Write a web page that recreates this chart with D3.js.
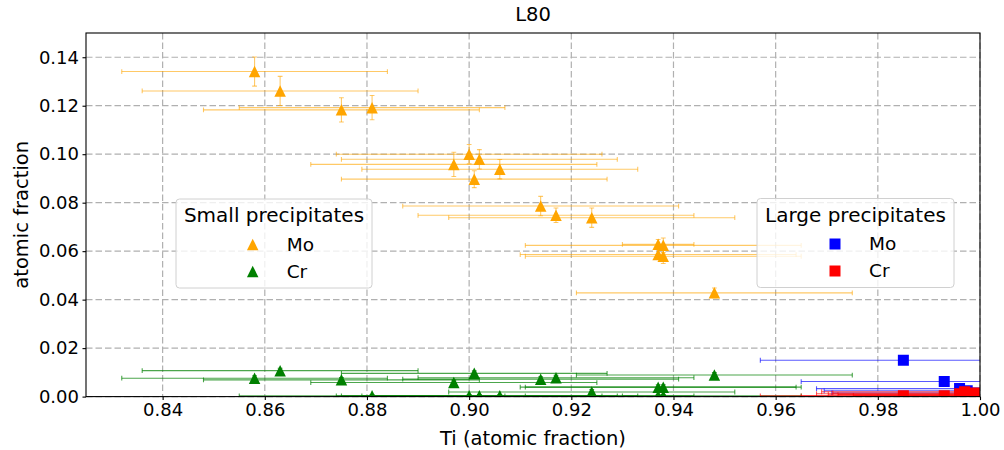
<!DOCTYPE html>
<html>
<head>
<meta charset="utf-8">
<script src="https://cdn.jsdelivr.net/npm/d3@7/dist/d3.min.js"></script>
<style>
  html, body { margin: 0; padding: 0; background: #fff; }
  svg { display: block; font-family: "DejaVu Sans", sans-serif; }
</style>
</head>
<body>
<svg id="chart" width="1004" height="450"></svg>
<script>
// Small precipitates: Ti fraction with its spread, Mo and Cr content
const smallTi    = [0.858, 0.863, 0.875, 0.881, 0.900, 0.902, 0.897, 0.906, 0.901, 0.914, 0.917, 0.924, 0.937, 0.938, 0.937, 0.938, 0.948];
const smallTiErr = [0.026, 0.027, 0.027, 0.026, 0.026, 0.027, 0.028, 0.027, 0.026, 0.027, 0.027, 0.028, 0.007, 0.027, 0.027, 0.027, 0.027];
const smallMo    = [0.1341, 0.1261, 0.1183, 0.1192, 0.1000, 0.0979, 0.0958, 0.0938, 0.0897, 0.0786, 0.0748, 0.0738, 0.0628, 0.0624, 0.0586, 0.0579, 0.0428];
const smallMoErr = [0.006, 0.006, 0.005, 0.005, 0.004, 0.004, 0.005, 0.004, 0.0035, 0.004, 0.003, 0.004, 0.002, 0.003, 0.002, 0.003, 0.002];
const smallCr    = [0.0076, 0.0107, 0.0069, 0.0003, 0.0003, 0.0003, 0.0058, 0.0003, 0.0096, 0.0072, 0.0078, 0.0019, 0.0003, 0.0039, 0.0039, 0.0003, 0.0089];
const smallCrErr = [0.001, 0.001, 0.001, 0.0005, 0.0005, 0.0005, 0.001, 0.0005, 0.001, 0.001, 0.001, 0.001, 0.0005, 0.001, 0.001, 0.0005, 0.001];

// Large precipitates
const largeMoTi    = [0.985, 0.993, 0.996, 0.9975, 0.999];
const largeMoTiErr = [0.028, 0.028, 0.028, 0.028, 0.028];
const largeMo      = [0.0150, 0.0062, 0.0033, 0.0024, 0.0015];
const largeCrTi    = [0.985, 0.993, 0.996, 0.997, 0.998, 0.999, 0.999, 0.9995];
const largeCrTiErr = [0.028, 0.028, 0.028, 0.028, 0.0277, 0.0278, 0.0268, 0.0243];
const largeCr      = [0.0003, 0.0003, 0.0012, 0.0020, 0.0010, 0.0015, 0.0008, 0.0005];

// Axis ticks
const xTicks = [0.84, 0.86, 0.88, 0.90, 0.92, 0.94, 0.96, 0.98, 1.00];
const yTicks = [0.00, 0.02, 0.04, 0.06, 0.08, 0.10, 0.12, 0.14];

const svg = d3.select("#chart");
const plot = { left: 86, right: 980, top: 33, bottom: 396.6 };

const x = d3.scaleLinear().domain([0.825, 1.0]).range([plot.left, plot.right]);
const y = d3.scaleLinear().domain([0, 0.15]).range([plot.bottom, plot.top]);

svg.append("defs").append("clipPath").attr("id", "plotClip")
  .append("rect")
  .attr("x", plot.left).attr("y", plot.top)
  .attr("width", plot.right - plot.left).attr("height", plot.bottom - plot.top);

// Dashed grid
const grid = svg.append("g").attr("stroke", "#b0b0b0").attr("stroke-width", 1.2)
  .attr("stroke-dasharray", "6.5,3");
grid.selectAll("line.gx").data(xTicks).join("line").attr("class", "gx")
  .attr("x1", d => x(d)).attr("x2", d => x(d))
  .attr("y1", plot.top).attr("y2", plot.bottom);
grid.selectAll("line.gy").data(yTicks).join("line").attr("class", "gy")
  .attr("x1", plot.left).attr("x2", plot.right)
  .attr("y1", d => y(d)).attr("y2", d => y(d));

const area = svg.append("g").attr("clip-path", "url(#plotClip)");

const tri = d3.symbol().type({
  draw(ctx, size) {
    const h = Math.sqrt(size) / 2;
    ctx.moveTo(0, -h); ctx.lineTo(h, h); ctx.lineTo(-h, h); ctx.closePath();
  }
});
const sq = d3.symbol().type({
  draw(ctx, size) {
    const h = Math.sqrt(size) / 2;
    ctx.rect(-h, -h, 2 * h, 2 * h);
  }
});

function series(xs, xe, ys, ye, color, barOpacity, shape, msize) {
  const pts = xs.map((v, i) => ({ x: v, xe: xe[i], y: ys[i], ye: ye ? ye[i] : 0 }));
  const g = area.append("g");
  const bars = g.append("g").attr("stroke", color).attr("stroke-opacity", barOpacity)
    .attr("stroke-width", 1.1).attr("fill", "none");
  const cap = 2.4;
  pts.forEach(p => {
    const cy = y(p.y), x0 = x(p.x - p.xe), x1 = x(p.x + p.xe);
    bars.append("line").attr("x1", x0).attr("x2", x1).attr("y1", cy).attr("y2", cy);
    bars.append("line").attr("x1", x0).attr("x2", x0).attr("y1", cy - cap).attr("y2", cy + cap);
    bars.append("line").attr("x1", x1).attr("x2", x1).attr("y1", cy - cap).attr("y2", cy + cap);
    if (p.ye > 0) {
      const cx = x(p.x), y0 = y(p.y - p.ye), y1 = y(p.y + p.ye);
      bars.append("line").attr("x1", cx).attr("x2", cx).attr("y1", y0).attr("y2", y1);
      bars.append("line").attr("x1", cx - cap).attr("x2", cx + cap).attr("y1", y0).attr("y2", y0);
      bars.append("line").attr("x1", cx - cap).attr("x2", cx + cap).attr("y1", y1).attr("y2", y1);
    }
  });
  g.append("g").selectAll("path").data(pts).join("path")
    .attr("transform", d => `translate(${x(d.x)},${y(d.y)})`)
    .attr("d", shape.size(msize * msize))
    .attr("fill", color);
}

series(smallTi, smallTiErr, smallMo, smallMoErr, "orange", 0.6, tri, 11.5);
series(smallTi, smallTiErr, smallCr, smallCrErr, "green", 0.7, tri, 11.5);
series(largeMoTi, largeMoTiErr, largeMo, null, "blue", 0.65, sq, 11);
series(largeCrTi, largeCrTiErr, largeCr, null, "red", 0.65, sq, 11);

// Frame
svg.append("rect").attr("x", plot.left).attr("y", plot.top)
  .attr("width", plot.right - plot.left).attr("height", plot.bottom - plot.top)
  .attr("fill", "none").attr("stroke", "#000").attr("stroke-width", 1.1);

// Axes
const xAxis = svg.append("g").attr("transform", `translate(0,${plot.bottom})`)
  .call(d3.axisBottom(x).tickValues(xTicks).tickFormat(d3.format(".2f"))
    .tickSize(3.5).tickPadding(3.5));
const yAxis = svg.append("g").attr("transform", `translate(${plot.left},0)`)
  .call(d3.axisLeft(y).tickValues(yTicks).tickFormat(d3.format(".2f"))
    .tickSize(3.5).tickPadding(3.5));
[xAxis, yAxis].forEach(a => {
  a.select(".domain").remove();
  a.selectAll("text").attr("font-size", 18).attr("font-family", "DejaVu Sans").attr("fill", "#000");
  a.selectAll("line").attr("stroke", "#000").attr("stroke-width", 1.1);
});

// Title and axis labels
svg.append("text").attr("x", (plot.left + plot.right) / 2).attr("y", 20.5)
  .attr("text-anchor", "middle").attr("font-size", 19.5).text("L80");
svg.append("text").attr("x", (plot.left + plot.right) / 2).attr("y", 444.5)
  .attr("text-anchor", "middle").attr("font-size", 19.5).text("Ti (atomic fraction)");
svg.append("text").attr("transform", `translate(21,${(plot.top + plot.bottom) / 2}) rotate(-90)`)
  .attr("text-anchor", "middle").attr("dominant-baseline", "central")
  .attr("font-size", 19.5).text("atomic fraction");

// Legends
function legend(box, title, items) {
  const g = svg.append("g");
  g.append("rect").attr("x", box.x).attr("y", box.y).attr("width", box.w).attr("height", box.h)
    .attr("rx", 3.5).attr("fill", "#fff").attr("fill-opacity", 0.8)
    .attr("stroke", "#d0d0d0").attr("stroke-width", 1);
  g.append("text").attr("x", box.x + box.w / 2).attr("y", box.y + 23)
    .attr("text-anchor", "middle").attr("font-size", 20).text(title);
  items.forEach((it, i) => {
    const cy = box.y + 45.5 + i * 27;
    g.append("path").attr("transform", `translate(${box.x + box.mx},${cy})`)
      .attr("d", it.shape.size(it.ms * it.ms)).attr("fill", it.color);
    g.append("text").attr("x", box.x + box.tx).attr("y", cy + 6)
      .attr("font-size", 18.5).text(it.label);
  });
}
legend({ x: 176, y: 199, w: 196, h: 89, mx: 76.7, tx: 110.7 }, "Small precipitates", [
  { label: "Mo", color: "orange", shape: tri, ms: 11.5 },
  { label: "Cr", color: "green", shape: tri, ms: 11.5 }
]);
legend({ x: 757, y: 198.5, w: 197, h: 89, mx: 78, tx: 112 }, "Large precipitates", [
  { label: "Mo", color: "blue", shape: sq, ms: 11 },
  { label: "Cr", color: "red", shape: sq, ms: 11 }
]);
</script>
</body>
</html>
